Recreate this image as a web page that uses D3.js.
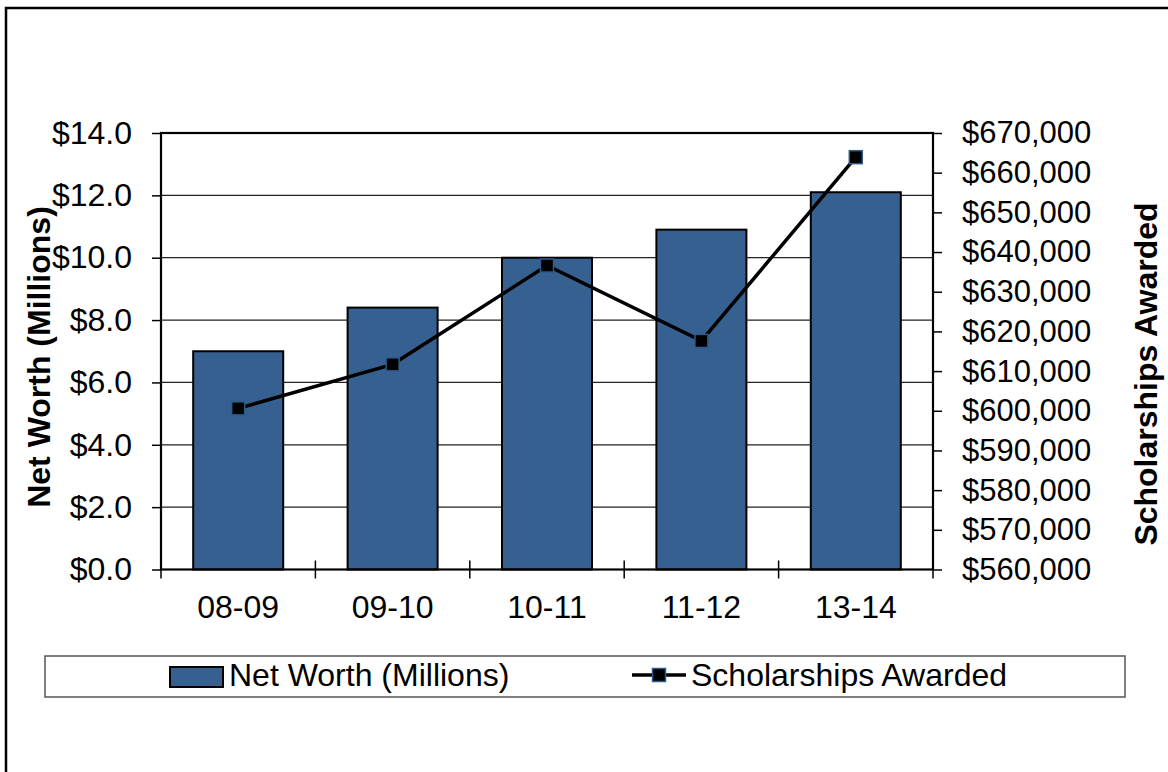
<!DOCTYPE html>
<html>
<head>
<meta charset="utf-8">
<script src="https://cdn.jsdelivr.net/npm/d3@7"></script>
<style>
  html, body { margin: 0; padding: 0; background: #fff; }
  svg { display: block; font-family: "Liberation Sans", Arial, sans-serif; }
</style>
</head>
<body>
<svg id="chart" width="1168" height="772"></svg>
<script>
// Fiscal years and the two series plotted against them
const categories = ["08-09", "09-10", "10-11", "11-12", "13-14"];
const netWorth = [7.0, 8.4, 10.0, 10.9, 12.1];                 // $ millions (bars, left axis)
const scholarships = [600600, 611700, 636600, 617600, 663900]; // $ (line, right axis)
const leftTicks = [0, 2, 4, 6, 8, 10, 12, 14];
const rightTicks = [560000, 570000, 580000, 590000, 600000, 610000,
                    620000, 630000, 640000, 650000, 660000, 670000];

const barColor = "#36608f";
const markerStroke = "#2e5a8c";
const fontSize = 32;

const svg = d3.select("#chart");
const plot = { left: 161, right: 933, top: 133, bottom: 569.5 };

// Outer chart frame
svg.append("rect")
  .attr("x", 6).attr("y", 8).attr("width", 1180).attr("height", 790)
  .attr("fill", "#fff").attr("stroke", "#000").attr("stroke-width", 2.5);

const x = d3.scaleBand().domain(categories)
  .range([plot.left, plot.right]).paddingInner(0.417).paddingOuter(0.2085);
const yL = d3.scaleLinear().domain([0, 14]).range([plot.bottom, plot.top]);
const yR = d3.scaleLinear().domain([560000, 670000]).range([plot.bottom, plot.top]);

// Horizontal gridlines
svg.append("g").selectAll("line").data(leftTicks.slice(1, -1)).join("line")
  .attr("x1", plot.left).attr("x2", plot.right)
  .attr("y1", d => yL(d)).attr("y2", d => yL(d))
  .attr("stroke", "#222").attr("stroke-width", 1.2);

// Bars
svg.append("g").selectAll("rect").data(categories).join("rect")
  .attr("x", d => x(d)).attr("width", x.bandwidth())
  .attr("y", (d, i) => yL(netWorth[i]))
  .attr("height", (d, i) => yL(0) - yL(netWorth[i]))
  .attr("fill", barColor).attr("stroke", "#000").attr("stroke-width", 2);

// Plot frame (top, left, right, bottom)
svg.append("rect")
  .attr("x", plot.left).attr("y", plot.top)
  .attr("width", plot.right - plot.left).attr("height", plot.bottom - plot.top)
  .attr("fill", "none").attr("stroke", "#000").attr("stroke-width", 2.2);

// Left axis
const leftAxis = d3.axisLeft(yL).tickValues(leftTicks)
  .tickFormat(d => "$" + d3.format(".1f")(d)).tickSize(9).tickPadding(20);
const gL = svg.append("g").attr("transform", `translate(${plot.left},0)`).call(leftAxis);

// Right axis
const rightAxis = d3.axisRight(yR).tickValues(rightTicks)
  .tickFormat(d => "$" + d3.format(",")(d)).tickSize(9).tickPadding(20);
const gR = svg.append("g").attr("transform", `translate(${plot.right},0)`).call(rightAxis);

// Category axis with ticks at band boundaries
const xAxis = d3.axisBottom(x).tickSize(0).tickPadding(26);
const gX = svg.append("g").attr("transform", `translate(0,${plot.bottom})`).call(xAxis);
const step = x.step();
svg.append("g").selectAll("line").data(d3.range(categories.length + 1)).join("line")
  .attr("x1", i => plot.left + i * step).attr("x2", i => plot.left + i * step)
  .attr("y1", plot.bottom - 9).attr("y2", plot.bottom + 9)
  .attr("stroke", "#000").attr("stroke-width", 1.5);

[gL, gR, gX].forEach(g => {
  g.select(".domain").remove();
  g.selectAll(".tick line").attr("stroke", "#000").attr("stroke-width", 1.5);
  g.selectAll(".tick text").attr("fill", "#000")
    .style("font-size", fontSize + "px").style("font-family", "'Liberation Sans', Arial, sans-serif");
});
gR.selectAll(".tick text").style("font-size", (fontSize - 1) + "px");

// Scholarship line and square markers
const line = d3.line().x((d, i) => x(categories[i]) + x.bandwidth() / 2).y(d => yR(d));
svg.append("path").datum(scholarships).attr("d", line)
  .attr("fill", "none").attr("stroke", "#000").attr("stroke-width", 3.5)
  .attr("stroke-linejoin", "miter");
const m = 13;
svg.append("g").selectAll("rect").data(scholarships).join("rect")
  .attr("x", (d, i) => x(categories[i]) + x.bandwidth() / 2 - m / 2)
  .attr("y", d => yR(d) - m / 2)
  .attr("width", m).attr("height", m)
  .attr("fill", "#000").attr("stroke", markerStroke).attr("stroke-width", 1.5);

// Axis titles
svg.append("text")
  .attr("transform", "translate(50,357) rotate(-90)")
  .attr("text-anchor", "middle")
  .style("font-size", fontSize + "px").style("font-weight", "bold")
  .text("Net Worth (Millions)");
svg.append("text")
  .attr("transform", "translate(1157,374) rotate(-90)")
  .attr("text-anchor", "middle")
  .style("font-size", fontSize + "px").style("font-weight", "bold")
  .text("Scholarships Awarded");

// Legend
const lg = svg.append("g");
lg.append("rect").attr("x", 45).attr("y", 656).attr("width", 1080).attr("height", 41)
  .attr("fill", "#fff").attr("stroke", "#555").attr("stroke-width", 1.5);
lg.append("rect").attr("x", 170).attr("y", 667).attr("width", 53).attr("height", 20)
  .attr("fill", barColor).attr("stroke", "#000").attr("stroke-width", 2);
lg.append("text").attr("x", 229).attr("y", 675).attr("dy", "0.35em")
  .style("font-size", fontSize + "px").text("Net Worth (Millions)");
lg.append("line").attr("x1", 632).attr("x2", 686).attr("y1", 675).attr("y2", 675)
  .attr("stroke", "#000").attr("stroke-width", 3.5);
lg.append("rect").attr("x", 659 - m / 2).attr("y", 675 - m / 2).attr("width", m).attr("height", m)
  .attr("fill", "#000").attr("stroke", markerStroke).attr("stroke-width", 1.5);
lg.append("text").attr("x", 691).attr("y", 675).attr("dy", "0.35em")
  .style("font-size", fontSize + "px").text("Scholarships Awarded");
</script>
</body>
</html>
